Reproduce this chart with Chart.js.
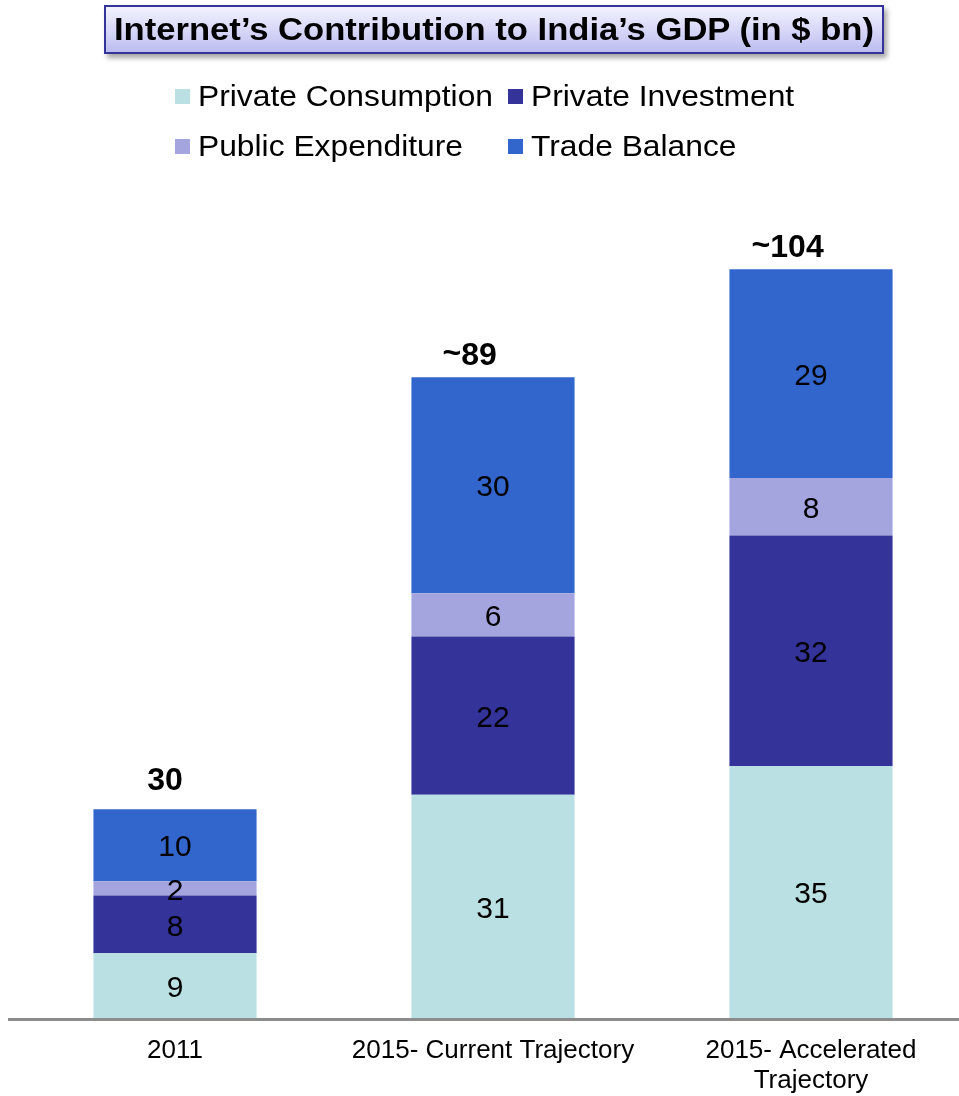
<!DOCTYPE html>
<html>
<head>
<meta charset="utf-8">
<script src="https://cdn.jsdelivr.net/npm/chart.js@4.4.1/dist/chart.umd.min.js"></script>
<style>
  html, body { margin: 0; padding: 0; background: #fff; overflow: hidden; width: 959px; height: 1096px; }
  #wrap { position: relative; width: 980px; height: 1096px; }
  #c { position: absolute; left: 0; top: 0; }
  #title {
    position: absolute; left: 104px; top: 5px; width: 776px; height: 45px;
    border: 2px solid #33339a;
    background: linear-gradient(to bottom, #f2f2ff 0%, #d8d8f8 50%, #bcbcf0 100%);
    box-shadow: 3px 4px 5px rgba(0,0,0,0.35);
  }
  #title span {
    position: absolute; left: 8px; top: 5px; white-space: nowrap;
    font-family: "Liberation Sans", Arial, sans-serif; font-weight: bold; font-size: 31px;
    color: #000; transform-origin: 0 0; line-height: 36px;
  }
  .leg { position: absolute; height: 32px; white-space: nowrap; }
  .leg i { position: absolute; left: 0; top: 9px; width: 15px; height: 15px; }
  .leg span {
    position: absolute; left: 23px; top: 0; line-height: 32px;
    font-family: "Liberation Sans", Arial, sans-serif; font-size: 29px; color: #000;
    transform-origin: 0 50%;
  }
</style>
</head>
<body>
<div id="wrap">
  <canvas id="c" width="980" height="1096"></canvas>
  <div id="title"><span id="titleText">Internet’s Contribution to India’s GDP (in $ bn)</span></div>
  <div id="legend"></div>
</div>
<script>
// ---- data ----
const categories = ["2011", "2015- Current Trajectory", ["2015- Accelerated", "Trajectory"]];
const seriesNames = ["Private Consumption", "Private Investment", "Public Expenditure", "Trade Balance"];
const privateConsumption = [9, 31, 35];
const privateInvestment = [8, 22, 32];
const publicExpenditure = [2, 6, 8];
const tradeBalance = [10, 30, 29];
const totalLabels = ["30", "~89", "~104"];
const seriesColors = ["#bae0e3", "#333399", "#a4a4de", "#3366cc"];

// ---- title fit ----
const tt = document.getElementById('titleText');
const tw = tt.getBoundingClientRect().width;
tt.style.transform = 'scaleX(' + (760 / tw) + ')';

// ---- legend (HTML) ----
const legPos = [[175, 80], [508, 80], [175, 130], [508, 130]];
const legend = document.getElementById('legend');
let legScale = null;
seriesNames.forEach((n, i) => {
  const d = document.createElement('div');
  d.className = 'leg';
  d.style.left = legPos[i][0] + 'px';
  d.style.top = legPos[i][1] + 'px';
  const sq = document.createElement('i');
  sq.style.background = seriesColors[i];
  const sp = document.createElement('span');
  sp.textContent = n;
  d.appendChild(sq); d.appendChild(sp);
  legend.appendChild(d);
  if (legScale === null) legScale = 295 / sp.getBoundingClientRect().width;
  sp.style.transform = 'scaleX(' + legScale + ')';
});

// ---- plugin for axis line, segment & total labels ----
const labelPlugin = {
  id: 'labels',
  beforeDatasetsDraw(chart) {
    const ctx = chart.ctx;
    ctx.save();
    ctx.strokeStyle = '#8c8c8c';
    ctx.lineWidth = 3;
    ctx.beginPath();
    ctx.moveTo(8, chart.chartArea.bottom + 1.5);
    ctx.lineTo(chart.width, chart.chartArea.bottom + 1.5);
    ctx.stroke();
    ctx.restore();
  },
  afterDatasetsDraw(chart) {
    const ctx = chart.ctx;
    ctx.save();
    ctx.fillStyle = '#000';
    ctx.textAlign = 'center';
    ctx.textBaseline = 'middle';
    ctx.font = '30px "Liberation Sans", Arial, sans-serif';
    chart.data.datasets.forEach((ds, di) => {
      const meta = chart.getDatasetMeta(di);
      meta.data.forEach((el, i) => {
        ctx.fillText(String(ds.data[i]), el.x, (el.y + el.base) / 2 + 3);
      });
    });
    const last = chart.getDatasetMeta(chart.data.datasets.length - 1);
    ctx.font = 'bold 32px "Liberation Sans", Arial, sans-serif';
    ctx.textBaseline = 'alphabetic';
    last.data.forEach((el, i) => {
      const lbl = totalLabels[i];
      const hasTilde = lbl.charAt(0) === '~';
      const num = hasTilde ? lbl.slice(1) : lbl;
      const cx = el.x - (hasTilde ? 14 : 10);
      const by = el.y - (hasTilde ? 12 : 19);
      ctx.textAlign = 'center';
      ctx.fillText(num, cx, by);
      if (hasTilde) {
        const w = ctx.measureText(num).width;
        ctx.textAlign = 'right';
        ctx.fillText('~', cx - w / 2, by - 2);
      }
    });
    ctx.restore();
  }
};

const seriesData = [privateConsumption, privateInvestment, publicExpenditure, tradeBalance];
new Chart(document.getElementById('c'), {
  type: 'bar',
  data: {
    labels: categories,
    datasets: seriesNames.map((n, i) => ({
      label: n,
      data: seriesData[i],
      backgroundColor: seriesColors[i],
      borderWidth: 0,
      barPercentage: 1,
      categoryPercentage: 0.513
    }))
  },
  options: {
    responsive: false,
    animation: false,
    devicePixelRatio: 1,
    layout: { padding: { left: 16, right: 10, top: 226, bottom: 0 } },
    plugins: { legend: { display: false }, title: { display: false }, tooltip: { enabled: false } },
    scales: {
      x: {
        stacked: true,
        grid: { display: false, drawTicks: false },
        border: { display: false },
        ticks: {
          color: '#000',
          padding: 18,
          font: { family: '"Liberation Sans", Arial, sans-serif', size: 26, lineHeight: 1.15 },
          maxRotation: 0, autoSkip: false
        },
        afterFit(scale) { scale.height = 78; }
      },
      y: {
        stacked: true,
        display: false,
        min: 0,
        max: 110
      }
    }
  },
  plugins: [labelPlugin]
});
</script>
</body>
</html>
